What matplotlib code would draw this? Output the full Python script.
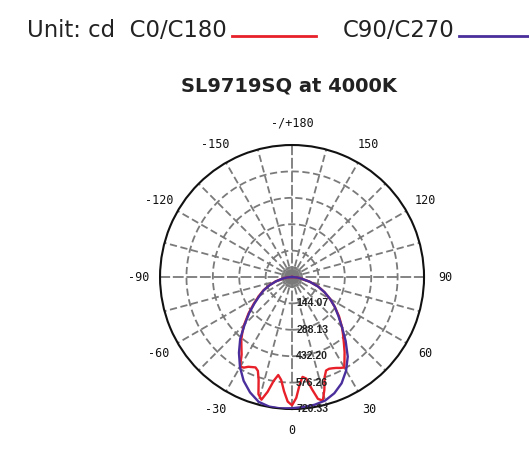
import numpy as np
import matplotlib
matplotlib.use("Agg")
import matplotlib.pyplot as plt
from matplotlib.lines import Line2D

# Photometric data (cd), angles in degrees, 0 = straight down
ring_values = [144.07, 288.13, 432.20, 576.26, 720.33]
tick_deg = [0, 30, 60, 90, 120, 150, 180, 210, 240, 270, 300, 330]
tick_text = ["0", "30", "60", "90", "120", "150", "-/+180",
             "-150", "-120", "-90", "-60", "-30"]

# C0/C180 plane
c0_deg = [-90, -85, -80, -75, -70, -65, -60, -55, -50, -45, -42, -39, -36, -33,
          -31, -30, -28, -26, -24, -22, -20, -18, -16, -14, -12, -10, -8, -6,
          -4, -2, 0, 2, 4, 6, 8, 10, 12, 14, 16, 18, 20, 22, 24, 26, 28, 30,
          32, 35, 38, 42, 45, 50, 55, 60, 65, 70, 75, 80, 85, 90]
c0_cd = [0, 28, 55, 92, 132, 172, 210, 255, 310, 370, 405, 440, 470, 505,
         545, 565, 560, 545, 538, 532, 545, 590, 665, 690, 640, 575, 540, 565,
         625, 680, 700, 660, 590, 548, 560, 620, 680, 695, 640, 575, 543, 540,
         545, 552, 562, 570, 540, 500, 460, 415, 385, 335, 285, 240, 195, 152,
         100, 55, 28, 0]

# C90/C270 plane
c90_deg = [-90, -85, -80, -75, -70, -65, -60, -55, -50, -45, -40, -35, -30,
           -25, -20, -15, -10, -5, 0, 5, 10, 15, 20, 25, 30, 35, 40, 45, 50,
           55, 60, 65, 70, 75, 80, 85, 90]
c90_cd = [0, 28, 55, 90, 130, 170, 205, 250, 305, 365, 440, 505, 568,
          625, 670, 705, 718, 720, 716, 712, 708, 698, 675, 640, 590, 530,
          455, 385, 330, 285, 240, 195, 150, 100, 55, 28, 0]

fig = plt.figure(figsize=(5.29, 4.69), dpi=100)
ax = fig.add_axes([0.3025, 0.1279, 0.4991, 0.5629], projection="polar")
ax.set_theta_zero_location("S")
ax.set_theta_direction(1)
ax.set_ylim(0, ring_values[-1])

grid_col = "#7a7a7a"
# angular spokes every 15 degrees
for a in range(0, 360, 15):
    style = (0, (6, 1.5)) if a % 90 == 0 else (0, (4, 2))
    ax.plot([np.deg2rad(a)] * 2, [0, ring_values[-1]], color=grid_col,
            lw=1.3, ls=style, zorder=1)
# rings
th = np.linspace(0, 2 * np.pi, 361)
for r in ring_values[:-1]:
    ax.plot(th, [r] * len(th), color=grid_col, lw=1.3, ls=(0, (4, 2)), zorder=1)
# dense centre hatch
for a in np.arange(0, 360, 7.5):
    ax.plot([np.deg2rad(a)] * 2, [0, 55], color=grid_col, lw=0.9, zorder=1)
ax.plot(th, [55] * len(th), color=grid_col, lw=0.9, ls=(0, (2, 1.5)), zorder=1)

ax.grid(False)
ax.set_yticks([])
ax.set_xticks(np.deg2rad(tick_deg))
ax.set_xticklabels(tick_text, fontsize=8.5, color="#111111",
                   family="DejaVu Sans Mono")
ax.tick_params(axis="x", pad=5)
ax.spines["polar"].set_color("#111111")
ax.spines["polar"].set_linewidth(1.5)

ax.plot(np.deg2rad(c0_deg), c0_cd, color="#e8202a", lw=1.7, zorder=3)
ax.plot(np.deg2rad(c90_deg), c90_cd, color="#4a2f9c", lw=1.7, zorder=4)

for r in ring_values:
    ax.annotate(f"{r:.2f}", xy=(0, r), xytext=(3, 0), textcoords="offset points",
                ha="left", va="center", fontsize=7.6, fontweight="bold",
                family="Liberation Sans", color="#222222", zorder=5)

# header and title
fig.text(27 / 529, 1 - 30 / 469, "Unit: cd  C0/C180", fontsize=16.4,
         ha="left", va="center", color="#222222")
fig.text(343 / 529, 1 - 30 / 469, "C90/C270", fontsize=16.4,
         ha="left", va="center", color="#222222")
fig.add_artist(Line2D([232 / 529, 316 / 529], [1 - 36 / 469] * 2,
                      color="#e8202a", lw=2, transform=fig.transFigure))
fig.add_artist(Line2D([459 / 529, 1.0], [1 - 36 / 469] * 2,
                      color="#4a2f9c", lw=2, transform=fig.transFigure))
fig.text(289 / 529, 1 - 86 / 469, "SL9719SQ at 4000K", fontsize=14,
         fontweight="bold", ha="center", va="center", color="#222222")

fig.savefig("out.png", dpi=100)
